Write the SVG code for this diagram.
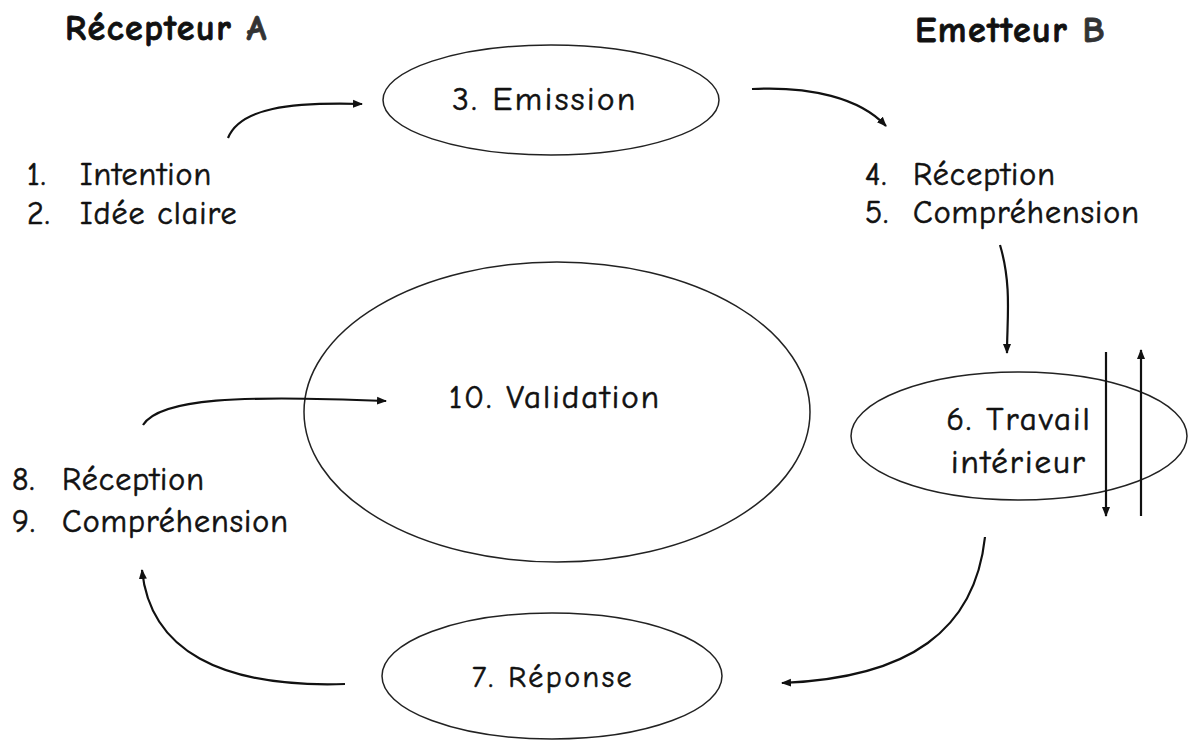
<svg xmlns="http://www.w3.org/2000/svg" width="1188" height="742" viewBox="0 0 1188 742">
<defs>
<marker id="ah" viewBox="0 0 10 10" refX="9" refY="5" markerWidth="10" markerHeight="10" markerUnits="userSpaceOnUse" orient="auto">
<path d="M0,1 L10,5 L0,9 Z" fill="#111"/>
</marker>
</defs>
<style>
text{font-family:"Comic Sans MS","Comic Neue","DejaVu Sans",sans-serif;fill:#111;stroke:#111;stroke-width:0.6px}
.h{font-size:36px;font-weight:bold;letter-spacing:1.5px;stroke-width:0.8px}
.t{font-size:32px;letter-spacing:1px}
.n{font-size:33px;letter-spacing:2px}
ellipse{fill:#fff;stroke:#222;stroke-width:1.5}
.c{fill:none;stroke:#111;stroke-width:2.2;marker-end:url(#ah)}
</style>
<rect width="1188" height="742" fill="#fff"/>
<g id="titles">
<text class="h" x="65" y="40">Récepteur <tspan fill="#333" stroke="#333">A</tspan></text>
<text class="h" x="915" y="42">Emetteur <tspan fill="#333" stroke="#333">B</tspan></text>
</g>
<g id="lists">
<text class="t" x="27" y="185">1.</text><text class="t" x="80" y="185">Intention</text>
<text class="t" x="27" y="224">2.</text><text class="t" x="80" y="224">Idée claire</text>
<text class="t" x="865" y="185">4.</text><text class="t" x="913" y="185">Réception</text>
<text class="t" x="865" y="223">5.</text><text class="t" x="913" y="223">Compréhension</text>
<text class="t" x="12" y="490">8.</text><text class="t" x="62" y="490">Réception</text>
<text class="t" x="12" y="532">9.</text><text class="t" x="62" y="532">Compréhension</text>
</g>
<g id="emission">
<ellipse cx="551" cy="100" rx="168" ry="55"/>
<text class="n" x="545" y="110" text-anchor="middle" style="letter-spacing:2.5px">3. Emission</text>
</g>
<g id="validation">
<ellipse cx="557" cy="412" rx="253" ry="150"/>
<text class="n" x="555" y="408" text-anchor="middle">10. Validation</text>
</g>
<g id="travail">
<ellipse cx="1019" cy="436" rx="168" ry="64"/>
<text class="n" x="1019" y="430" text-anchor="middle">6. Travail</text>
<text class="n" x="1019" y="473" text-anchor="middle">intérieur</text>
</g>
<g id="reponse">
<ellipse cx="552" cy="676" rx="170" ry="63"/>
<text class="n" x="553" y="687" text-anchor="middle" style="font-size:30px;letter-spacing:2.5px">7. Réponse</text>
</g>
<g id="connectors">
<path class="c" d="M228,138 C240,108 290,102 362,104"/>
<path class="c" d="M752,89 C810,86 860,98 886,126"/>
<path class="c" d="M1000,245 C1012,285 1007,320 1007,353"/>
<path class="c" d="M1106,352 L1106,516"/>
<path class="c" d="M1141,516 L1141,350"/>
<path class="c" d="M985,537 C975,630 910,678 782,683"/>
<path class="c" d="M345,684 C220,688 150,650 142,570"/>
<path class="c" d="M143,425 C160,398 240,395 386,401"/>
</g>
</svg>
